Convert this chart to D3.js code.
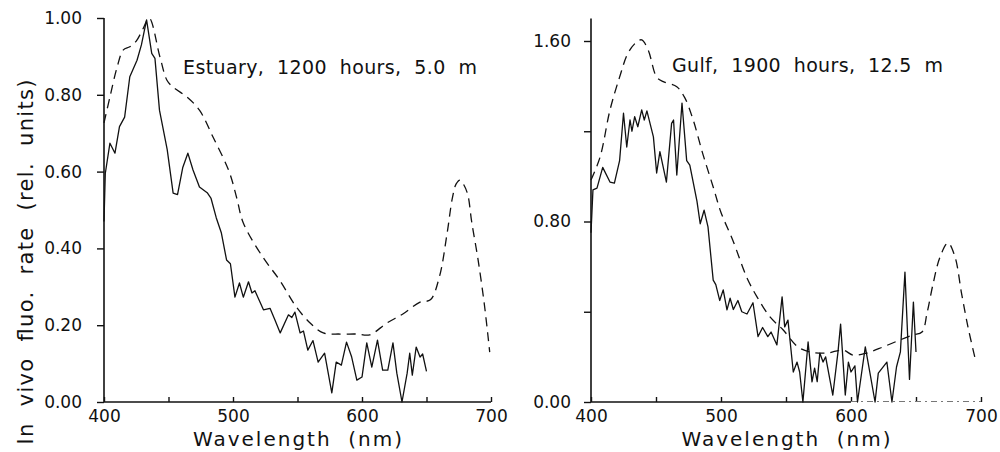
<!DOCTYPE html>
<html>
<head>
<meta charset="utf-8">
<script src="https://cdn.jsdelivr.net/npm/d3@7"></script>
<style>
  body { margin: 0; background: #fff; }
  svg { display: block; }
  text { font-family: 'DejaVu Sans', sans-serif; fill: #111; white-space: pre; }
</style>
</head>
<body>
<svg id="chart" width="1000" height="452"></svg>
<script>
// Estuary, 1200 hours, 5.0 m -- solid curve (fluorescence rate)
const estuaryWl = [400, 401, 404.6, 408.5, 412, 416, 420, 425.6, 429, 433, 437, 439.5, 443, 449, 453.6, 457, 461, 465, 469, 474, 480, 483, 487, 491, 495, 498, 501.5, 505, 508, 512, 514.7, 517, 523.6, 528.7, 532.6, 536.6, 543, 545.6, 548, 552, 554.6, 558, 562, 566, 571, 576.6, 580, 584, 588, 592, 596, 600, 603.7, 607.6, 612, 616, 620, 624, 627, 631, 635, 637, 639, 642, 645, 647, 650];
const estuaryVal = [0.47, 0.595, 0.674, 0.648, 0.717, 0.742, 0.847, 0.89, 0.93, 0.995, 0.908, 0.895, 0.76, 0.657, 0.544, 0.54, 0.61, 0.648, 0.604, 0.56, 0.545, 0.53, 0.48, 0.44, 0.37, 0.36, 0.273, 0.31, 0.273, 0.313, 0.284, 0.29, 0.24, 0.244, 0.213, 0.18, 0.227, 0.22, 0.234, 0.18, 0.185, 0.135, 0.16, 0.104, 0.127, 0.024, 0.104, 0.096, 0.156, 0.117, 0.057, 0.065, 0.154, 0.091, 0.161, 0.083, 0.083, 0.154, 0.075, 0.0, 0.075, 0.127, 0.07, 0.143, 0.117, 0.125, 0.08];

// Estuary -- dashed curve
const estuaryDashWl = [400, 405, 410, 415, 420, 425, 430, 435, 443.4, 448.8, 453.5, 464, 474, 484.5, 497, 503, 508, 523, 536, 549, 560, 570, 583, 596, 606, 619, 632, 645, 653, 660, 666, 670, 673, 676, 679, 682, 685, 690, 695, 699];
const estuaryDashVal = [0.727, 0.8, 0.87, 0.917, 0.925, 0.94, 0.97, 1.0, 0.898, 0.838, 0.82, 0.795, 0.76, 0.69, 0.6, 0.53, 0.466, 0.378, 0.318, 0.248, 0.205, 0.18, 0.177, 0.177, 0.175, 0.205, 0.23, 0.26, 0.266, 0.326, 0.44, 0.53, 0.568, 0.578, 0.565, 0.54, 0.47, 0.37, 0.25, 0.13];

// Gulf, 1900 hours, 12.5 m -- solid curve
const gulfWl = [400, 401.5, 404.6, 409, 414.6, 418, 422, 425, 427.5, 430, 431.5, 433.6, 436, 439, 441, 443, 448, 450.5, 453, 458, 462, 463.5, 466, 470, 473.6, 476, 481.5, 484, 487, 490, 494, 496, 499, 501.7, 504.6, 507, 509.5, 513, 516, 520, 524.6, 528.5, 532, 536, 538.5, 543, 547, 549, 551.5, 555.6, 558.5, 560.5, 563, 567, 570, 572, 574, 576, 578.5, 580.5, 586, 590, 592, 595.6, 598, 600, 603, 605, 611, 614.6, 618.5, 621, 627.6, 631.5, 635, 638, 641.5, 645, 648, 650];
const gulfVal = [0.75, 0.94, 0.948, 1.04, 0.975, 0.97, 1.07, 1.28, 1.13, 1.25, 1.2, 1.265, 1.22, 1.295, 1.25, 1.29, 1.175, 1.015, 1.11, 0.975, 1.235, 1.25, 1.006, 1.325, 1.07, 1.05, 0.89, 0.79, 0.85, 0.776, 0.54, 0.52, 0.45, 0.497, 0.408, 0.46, 0.41, 0.45, 0.4, 0.39, 0.44, 0.29, 0.33, 0.29, 0.31, 0.253, 0.466, 0.333, 0.363, 0.133, 0.177, 0.133, 0.0, 0.266, 0.089, 0.15, 0.09, 0.217, 0.177, 0.2, 0.031, 0.222, 0.345, 0.031, 0.177, 0.133, 0.16, 0.0, 0.244, 0.128, 0.0, 0.128, 0.177, 0.0, 0.155, 0.222, 0.576, 0.1, 0.443, 0.222];

// Gulf -- dashed curve
const gulfDashWl = [400, 407, 414.6, 422, 428.5, 435, 439, 444, 450.5, 455.6, 466, 472, 478.6, 486, 494, 500, 509, 520, 527.7, 537.7, 547.7, 559, 568.5, 581.5, 594, 601.5, 612, 624.6, 637.7, 647.7, 654.6, 658.5, 663, 668.5, 674.6, 680, 685, 690, 695.4];
const gulfDashVal = [0.984, 1.086, 1.294, 1.44, 1.547, 1.595, 1.605, 1.56, 1.44, 1.42, 1.397, 1.35, 1.25, 1.10, 0.953, 0.84, 0.718, 0.55, 0.466, 0.377, 0.32, 0.245, 0.222, 0.217, 0.23, 0.208, 0.217, 0.244, 0.275, 0.297, 0.31, 0.394, 0.52, 0.643, 0.705, 0.643, 0.483, 0.332, 0.195];

// axis ticks
const xTicks = [400, 450, 500, 550, 600, 650, 700];
const xLabelled = [400, 500, 600, 700];
const estuaryYTicks = [0, 0.2, 0.4, 0.6, 0.8, 1.0];
const gulfYTicks = [0, 0.4, 0.8, 1.2, 1.6];
const gulfYLabelled = [0, 0.8, 1.6];

const svg = d3.select("#chart");

const zip = (a, b) => a.map((d, i) => [d, b[i]]);

function drawPanel(p) {
  const x = d3.scaleLinear().domain([400, 700]).range(p.xRange);
  const y = d3.scaleLinear().domain(p.yDomain).range(p.yRange);
  const g = svg.append("g");

  // y axis
  const yAxis = d3.axisLeft(y)
      .tickValues(p.yTicks)
      .tickSize(7)
      .tickPadding(p.yPad)
      .tickFormat(d => p.yLabelled.some(v => Math.abs(v - d) < 1e-9) ? d3.format(".2f")(d) : "");
  const ya = g.append("g").attr("transform", `translate(${x(400)},0)`).call(yAxis);
  ya.select(".domain").remove();
  ya.selectAll("line").attr("stroke", "#111").attr("stroke-width", 1.4);
  ya.selectAll("text").attr("font-family", "'DejaVu Sans', sans-serif").attr("font-size", 17).attr("fill", "#2a2a2a");

  g.append("line")
      .attr("x1", x(400)).attr("x2", x(400))
      .attr("y1", y(p.yTop)).attr("y2", y(0))
      .attr("stroke", "#111").attr("stroke-width", 1.6);

  // x axis, ticks point up into the plot
  const xAxis = d3.axisBottom(x)
      .tickValues(xTicks)
      .tickSize(-5)
      .tickPadding(8)
      .tickFormat(d => xLabelled.includes(d) ? d : "");
  const xa = g.append("g").attr("transform", `translate(0,${y(0)})`).call(xAxis);
  xa.select(".domain").remove();
  xa.selectAll("line").attr("stroke", "#111").attr("stroke-width", 1.4);
  xa.selectAll("text").attr("font-family", "'DejaVu Sans', sans-serif").attr("font-size", 17).attr("fill", "#2a2a2a");

  g.append("line")
      .attr("x1", x(400)).attr("x2", x(p.xSolidEnd))
      .attr("y1", y(0)).attr("y2", y(0))
      .attr("stroke", "#111").attr("stroke-width", 1.6);
  if (p.xSolidEnd < 700) {
    // faint broken remainder of the axis line
    g.append("line")
        .attr("x1", x(p.xSolidEnd)).attr("x2", x(700))
        .attr("y1", y(0) - 0.5).attr("y2", y(0) - 0.5)
        .attr("stroke", "#777").attr("stroke-width", 1)
        .attr("stroke-dasharray", "6,4,2,4");
  }

  const line = d3.line().x(d => x(d[0])).y(d => y(d[1]));

  g.append("path")
      .datum(zip(p.dashWl, p.dashVal))
      .attr("d", line.curve(d3.curveCatmullRom.alpha(0.5)))
      .attr("fill", "none")
      .attr("stroke", "#111")
      .attr("stroke-width", 1.3)
      .attr("stroke-dasharray", "9,6");

  g.append("path")
      .datum(zip(p.solidWl, p.solidVal))
      .attr("d", line.curve(d3.curveLinear))
      .attr("fill", "none")
      .attr("stroke", "#111")
      .attr("stroke-width", 1.3)
      .attr("stroke-linejoin", "round");

  // title inside the plot
  g.append("text")
      .attr("x", p.titleX).attr("y", p.titleY)
      .attr("font-size", 19)
      .attr("textLength", p.titleLen)
      .attr("lengthAdjust", "spacing")
      .text(p.title);

  // x axis title
  g.append("text")
      .attr("x", (x(400) + x(700)) / 2).attr("y", 446)
      .attr("text-anchor", "middle")
      .attr("font-size", 20)
      .attr("textLength", 209)
      .attr("lengthAdjust", "spacing")
      .text("Wavelength  (nm)");
}

drawPanel({
  xRange: [104, 491], yDomain: [0, 1], yRange: [402, 18], yTop: 1.0,
  yTicks: estuaryYTicks, yLabelled: estuaryYTicks, yPad: 15,
  xSolidEnd: 700,
  solidWl: estuaryWl, solidVal: estuaryVal,
  dashWl: estuaryDashWl, dashVal: estuaryDashVal,
  title: "Estuary,  1200  hours,  5.0  m", titleX: 183, titleY: 74, titleLen: 294
});

drawPanel({
  xRange: [591, 981], yDomain: [0, 1.6], yRange: [402, 41], yTop: 1.7,
  yTicks: gulfYTicks, yLabelled: gulfYLabelled, yPad: 13,
  xSolidEnd: 600,
  solidWl: gulfWl, solidVal: gulfVal,
  dashWl: gulfDashWl, dashVal: gulfDashVal,
  title: "Gulf,  1900  hours,  12.5  m", titleX: 672, titleY: 72, titleLen: 271
});

// shared y axis title
svg.append("text")
    .attr("transform", "translate(33,262) rotate(-90)")
    .attr("text-anchor", "middle")
    .attr("font-size", 21)
    .attr("textLength", 365)
    .attr("lengthAdjust", "spacing")
    .text("In  vivo  fluo.  rate  (rel.  units)");
</script>
</body>
</html>
